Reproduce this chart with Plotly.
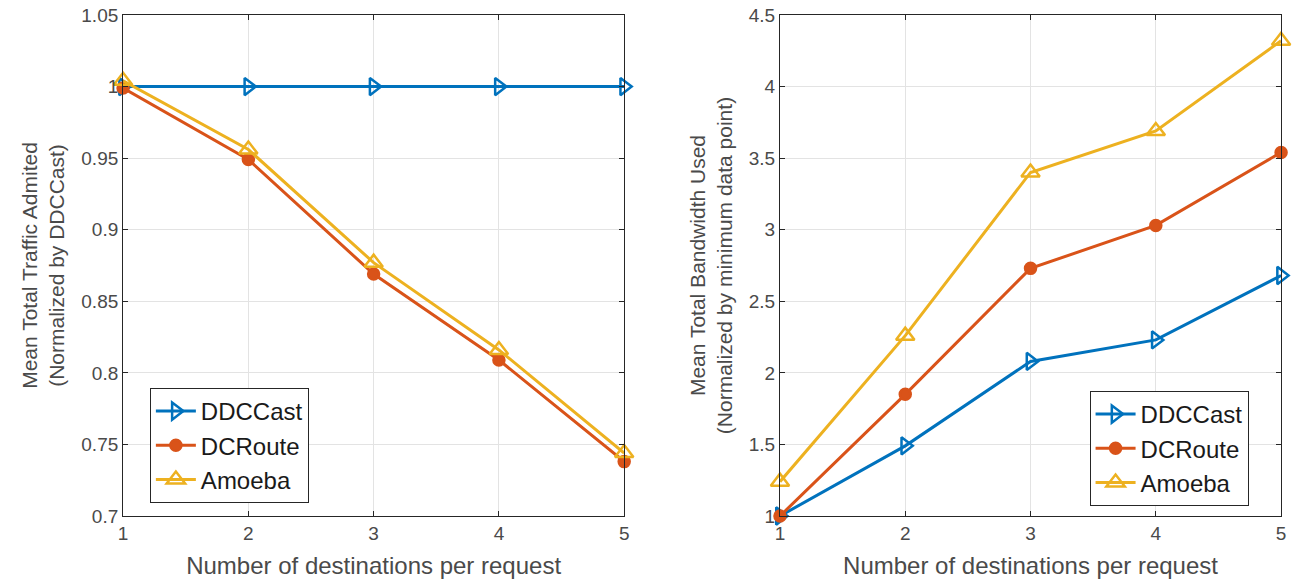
import plotly.graph_objects as go

x_vals = [1, 2, 3, 4, 5]

# Left panel: mean total traffic admitted
left_ddccast = [1.0, 1.0, 1.0, 1.0, 1.0]
left_dcroute = [0.999, 0.949, 0.869, 0.809, 0.738]
left_amoeba = [1.004, 0.956, 0.877, 0.816, 0.744]

# Right panel: mean total bandwidth used
right_ddccast = [1.0, 1.49, 2.08, 2.23, 2.68]
right_dcroute = [1.0, 1.85, 2.73, 3.03, 3.54]
right_amoeba = [1.24, 2.26, 3.40, 3.69, 4.32]

series_names = ["DDCCast", "DCRoute", "Amoeba"]
colors = ["#0072BD", "#D95319", "#EDB120"]
symbols = ["triangle-right-open", "circle", "triangle-up-open"]
sizes = [15, 11, 16]

left_tick_vals = [0.7, 0.75, 0.8, 0.85, 0.9, 0.95, 1.0, 1.05]
left_tick_text = ["0.7", "0.75", "0.8", "0.85", "0.9", "0.95", "1", "1.05"]
right_tick_vals = [1, 1.5, 2, 2.5, 3, 3.5, 4, 4.5]
right_tick_text = ["1", "1.5", "2", "2.5", "3", "3.5", "4", "4.5"]

FONT = "Liberation Sans, Arial, sans-serif"
AXC = "#262626"
TXT = "#4a4a4a"

fig = go.Figure()

for data, xa, ya, lg in [
    ([left_ddccast, left_dcroute, left_amoeba], "x", "y", "legend"),
    ([right_ddccast, right_dcroute, right_amoeba], "x2", "y2", "legend2"),
]:
    for vals, name, c, s, sz in zip(data, series_names, colors, symbols, sizes):
        fig.add_trace(go.Scatter(
            x=x_vals, y=vals, name=name, mode="lines+markers",
            xaxis=xa, yaxis=ya, legend=lg, cliponaxis=False,
            line=dict(color=c, width=3),
            marker=dict(symbol=s, size=sz, color=c, line=dict(color=c, width=2.5)),
        ))

W, H = 1297, 582
T, B = 15, 66
plot_h = H - T - B
axis_common = dict(
    showline=True, linecolor=AXC, linewidth=1, mirror="allticks",
    ticks="inside", ticklen=5, tickcolor=AXC,
    showgrid=True, gridcolor="#e3e3e3", gridwidth=1,
    zeroline=False,
    tickfont=dict(family=FONT, size=19, color=TXT),
)
xt_font = dict(family=FONT, size=24, color=TXT)
yt_font = dict(family=FONT, size=21, color=TXT)

fig.update_layout(
    width=W, height=H,
    paper_bgcolor="white", plot_bgcolor="white",
    margin=dict(l=0, r=0, t=T, b=B),
    showlegend=True,
    xaxis=dict(domain=[119 / W, 624 / W], range=[1, 5], tickvals=x_vals,
               title=dict(text="Number of destinations per request", standoff=14, font=xt_font),
               **axis_common),
    yaxis=dict(range=[0.7, 1.05], tickvals=left_tick_vals, ticktext=left_tick_text,
               title=dict(text="Mean Total Traffic Admited<br>(Normalized by DDCCast)", standoff=10,
                          font=yt_font),
               **axis_common),
    xaxis2=dict(domain=[781 / W, 1286 / W], range=[1, 5], tickvals=x_vals, anchor="y2",
                title=dict(text="Number of destinations per request", standoff=14, font=xt_font),
                **axis_common),
    yaxis2=dict(range=[1, 4.5], tickvals=right_tick_vals, ticktext=right_tick_text, anchor="x2",
                title=dict(text="Mean Total Bandwidth Used<br>(Normalized by minimum data point)",
                           standoff=10, font=yt_font),
                **axis_common),
    legend=dict(x=146 / W, y=(H - B - 388) / plot_h, xanchor="left", yanchor="top",
                bgcolor="white", bordercolor=AXC, borderwidth=1,
                font=dict(family=FONT, size=24, color="#1a1a1a"), itemwidth=40,
                tracegroupgap=0),
    legend2=dict(x=1093 / W, y=(H - B - 391) / plot_h, xanchor="left", yanchor="top",
                 bgcolor="white", bordercolor=AXC, borderwidth=1,
                 font=dict(family=FONT, size=24, color="#1a1a1a"), itemwidth=40,
                 tracegroupgap=0),
)

fig.write_html(
    "out.html",
    config={"displayModeBar": False},
    post_script="document.body.style.margin='0';document.body.style.overflow='hidden';",
)
